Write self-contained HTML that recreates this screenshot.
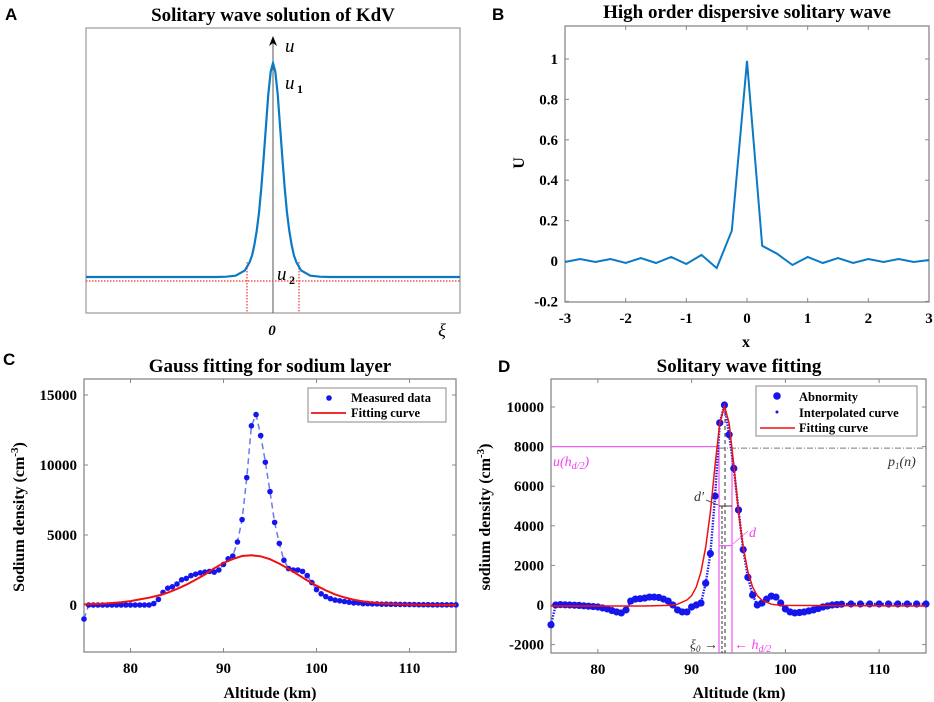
<!DOCTYPE html>
<html><head><meta charset="utf-8">
<style>
html,body{margin:0;padding:0;background:#fff;}
svg{display:block;}
text{font-family:"Liberation Serif",serif;font-weight:bold;}
.tk{font-size:15px;}
.ttl{font-size:19px;}
.pl{font-family:"Liberation Sans",sans-serif;font-size:17px;}
.lg{font-size:12.5px;}
.it{font-style:italic;font-weight:normal;}
</style></head>
<body>
<svg id="fig" width="934" height="702" viewBox="0 0 934 702" xmlns="http://www.w3.org/2000/svg">
<g id="pA"></g>
<g id="pB"></g>
<g id="pC"></g>
<g id="pD"></g>
</svg>
<script>
// ---- Panel A data (solitary wave shape, normalized) ----
const aXi = [-10,-3,-2.5,-2,-1.5,-1.25,-1.125,-1,-0.875,-0.75,-0.625,-0.5,-0.375,-0.25,-0.125,0,0.125,0.25,0.375,0.5,0.625,0.75,0.875,1,1.125,1.25,1.5,2,2.5,3,10];
const aU = [0,0,0.0013,0.0063,0.031,0.0685,0.1,0.148,0.212,0.300,0.416,0.554,0.707,0.854,0.960,1,0.960,0.854,0.707,0.554,0.416,0.300,0.212,0.148,0.1,0.0685,0.031,0.0063,0.0013,0,0];
// ---- Panel B data ----
const bX = [-3,-2.75,-2.5,-2.25,-2,-1.75,-1.5,-1.25,-1,-0.75,-0.5,-0.25,0,0.25,0.5,0.75,1,1.25,1.5,1.75,2,2.25,2.5,2.75,3];
const bU = [-0.005,0.01,-0.005,0.01,-0.01,0.015,-0.01,0.02,-0.015,0.03,-0.035,0.15,0.99,0.075,0.035,-0.02,0.02,-0.01,0.015,-0.01,0.01,-0.005,0.01,-0.005,0.005];
const bXTicks = [-3,-2,-1,0,1,2,3];
const bYTicks = [-0.2,0,0.2,0.4,0.6,0.8,1];
// ---- Panel C data ----
const cAlt = [75,75.5,76,76.5,77,77.5,78,78.5,79,79.5,80,80.5,81,81.5,82,82.5,83,83.5,84,84.5,85,85.5,86,86.5,87,87.5,88,88.5,89,89.5,90,90.5,91,91.5,92,92.5,93,93.5,94,94.5,95,95.5,96,96.5,97,97.5,98,98.5,99,99.5,100,100.5,101,101.5,102,102.5,103,103.5,104,104.5,105,105.5,106,106.5,107,107.5,108,108.5,109,109.5,110,110.5,111,111.5,112,112.5,113,113.5,114,114.5,115];
const cMeas = [-1000,0,0,0,0,0,0,0,0,0,0,0,0,0,0,100,400,900,1200,1300,1500,1800,1900,2100,2200,2300,2350,2400,2350,2500,2900,3300,3500,4500,6100,9100,12800,13600,12100,10200,8100,5900,4400,3200,2600,2500,2500,2400,2100,1600,1100,800,600,450,350,300,250,200,150,150,100,100,80,80,60,60,50,50,40,40,30,30,20,20,20,10,10,10,10,10,10];
const cFitAlt = [75,77,79,80,81,82,83,84,85,86,87,88,89,90,91,92,93,94,95,96,97,98,99,100,101,102,103,104,105,107,109,111,113,115];
const cFit = [40,90,200,280,400,520,680,880,1150,1450,1800,2180,2620,3000,3280,3500,3550,3480,3270,2960,2580,2170,1760,1380,1040,760,540,380,260,110,40,15,5,0];
const cXTicks = [80,90,100,110];
const cYTicks = [0,5000,10000,15000];
// ---- Panel D data ----
const dAlt = [75,75.5,76,76.5,77,77.5,78,78.5,79,79.5,80,80.5,81,81.5,82,82.5,83,83.5,84,84.5,85,85.5,86,86.5,87,87.5,88,88.5,89,89.5,90,90.5,91,91.5,92,92.5,93,93.5,94,94.5,95,95.5,96,96.5,97,97.5,98,98.5,99,99.5,100,100.5,101,101.5,102,102.5,103,103.5,104,104.5,105,105.5,106,107,108,109,110,111,112,113,114,115];
const dAbn = [-1000,0,20,10,0,-10,-20,-40,-60,-80,-100,-150,-200,-280,-350,-400,-250,200,300,320,350,400,400,380,300,200,0,-250,-350,-350,-100,0,100,1100,2600,5500,9200,10100,8600,6900,4800,2800,1400,500,0,100,300,450,400,100,-200,-350,-400,-380,-350,-300,-250,-180,-100,-50,0,20,40,50,50,50,50,50,50,50,50,50];
const dFitAlt = [75,85,87.5,88.5,89.5,90,90.5,91,91.5,92,92.5,93,93.5,94,94.5,95,95.5,96,96.5,97,97.5,98.5,99.5,115];
const dFit = [-50,-50,-20,40,250,470,910,1680,2920,4700,7080,9180,10050,9180,7080,4700,2920,1680,910,470,250,40,-20,-50];
const dXTicks = [80,90,100,110];
const dYTicks = [-2000,0,2000,4000,6000,8000,10000];

const NS='http://www.w3.org/2000/svg';
function el(parent,tag,attrs,txt){const e=document.createElementNS(NS,tag);for(const k in attrs)e.setAttribute(k,attrs[k]);if(txt!==undefined)e.textContent=txt;parent.appendChild(e);return e;}
function lin(d0,d1,r0,r1){return v=>r0+(v-d0)*(r1-r0)/(d1-d0);}

function axesBox(g,x0,y0,x1,y1,sx,sy,xt,yt,xfmt,yfmt){
  const b=el(g,'rect',{x:x0,y:y0,width:x1-x0,height:y1-y0,fill:'none',stroke:'#888','stroke-width':1.3});
  
  
  xt.forEach(v=>{const x=sx(v);
    const t1=el(g,'line',{x1:x,x2:x,y1:y1,y2:y1-4,stroke:'#888'});
    
    
    el(g,'line',{x1:x,x2:x,y1:y0,y2:y0+4,stroke:'#888'});
    const l=el(g,'text',{x:x,y:y1+21,'text-anchor':'middle',class:'tk'},xfmt(v));
    
    
  });
  yt.forEach(v=>{const y=sy(v);
    const t1=el(g,'line',{x1:x0,x2:x0+4,y1:y,y2:y,stroke:'#888'});
    
    
    el(g,'line',{x1:x1,x2:x1-4,y1:y,y2:y,stroke:'#888'});
    const l=el(g,'text',{x:x0-7,y:y+5,'text-anchor':'end',class:'tk'},yfmt(v));
    
    
  });
}
function poly(g,xs,ys,sx,sy,attrs,name){
  const pts=xs.map((x,i)=>sx(x).toFixed(1)+','+sy(ys[i]).toFixed(1)).join(' ');
  const p=el(g,'polyline',Object.assign({points:pts,fill:'none'},attrs));
  
  
  return p;
}
function txt(g,x,y,s,cls,name,extra){
  const t=el(g,'text',Object.assign({x:x,y:y,class:cls||''},extra||{}),s);
  
  
  return t;
}

// ===== Panel A =====
(function(){
  const g=document.getElementById('pA');
  const sx=lin(-10,10,86,460), sy=lin(0,1,277,63);
  txt(g,5,20,'A','pl','panel-label');
  txt(g,273,21,'Solitary wave solution of KdV','ttl','chart-title',{'text-anchor':'middle'});
  const b=el(g,'rect',{x:86,y:28,width:374,height:285,fill:'none',stroke:'#999','stroke-width':1.2});
  
  
  const ax=el(g,'line',{x1:273,x2:273,y1:40,y2:313,stroke:'#555','stroke-width':1});
  
  
  const ar=el(g,'path',{d:'M273,36 L269,46 L273,43 L277,46 Z',fill:'#000'});
  
  
  el(g,'line',{x1:86,x2:460,y1:281,y2:281,stroke:'#e33','stroke-width':1.2,'stroke-dasharray':'1.5,1.5'});
  el(g,'line',{x1:247,x2:247,y1:262,y2:313,stroke:'#e33','stroke-width':1.2,'stroke-dasharray':'1.5,1.5'});
  el(g,'line',{x1:299,x2:299,y1:262,y2:313,stroke:'#e33','stroke-width':1.2,'stroke-dasharray':'1.5,1.5'});
  poly(g,aXi,aU,sx,sy,{stroke:'#0a7ac6','stroke-width':2.2},'solitary-wave-curve');
  txt(g,285,52,'u','it','u-label',{'font-size':'19px'});
  txt(g,285,89,'u','it','u1-label',{'font-size':'19px'});
  txt(g,297,93,'1','','u1-sub',{'font-size':'12px','font-weight':'normal'});
  txt(g,277,280,'u','it','u2-label',{'font-size':'19px'});
  txt(g,289,284,'2','','u2-sub',{'font-size':'12px','font-weight':'normal'});
  txt(g,272,335,'0','','origin-label',{'text-anchor':'middle','font-style':'italic','font-size':'15px'});
  txt(g,442,336,'ξ','it','xi-label',{'text-anchor':'middle','font-size':'18px'});
})();

// ===== Panel B =====
(function(){
  const g=document.getElementById('pB');
  const sx=lin(-3,3,565,929), sy=lin(0,1,261,59);
  txt(g,492,20,'B','pl','panel-label');
  txt(g,747,18,'High order dispersive solitary wave','ttl','chart-title',{'text-anchor':'middle'});
  axesBox(g,565,26,929,302,sx,sy,bXTicks,bYTicks,v=>String(v),v=>String(v));
  poly(g,bX,bU,sx,sy,{stroke:'#0a7ac6','stroke-width':2},'series-u');
  txt(g,746,347,'x','','x-axis-title',{'text-anchor':'middle','font-size':'16px'});
  const t=el(g,'text',{x:0,y:0,transform:'translate(524,163) rotate(-90)','text-anchor':'middle','font-size':'16px'},'U');
  
  
})();

// ===== Panel C =====
(function(){
  const g=document.getElementById('pC');
  const sx=lin(75,115,84,456), sy=lin(0,15000,605,395);
  txt(g,3,365,'C','pl','panel-label');
  txt(g,270,372,'Gauss fitting for sodium layer','ttl','chart-title',{'text-anchor':'middle'});
  axesBox(g,84,379,456,652,sx,sy,cXTicks,cYTicks,v=>String(v),v=>String(v));
  poly(g,cAlt,cMeas,sx,sy,{stroke:'#6a7aee','stroke-width':1.5,'stroke-dasharray':'6,4'},'measured-dashed-line');
  cAlt.forEach((a,i)=>{
    const c=el(g,'circle',{cx:sx(a),cy:sy(cMeas[i]),r:2.8,fill:'#1515ee'});
    
    
  });
  poly(g,cFitAlt,cFit,sx,sy,{stroke:'#f01010','stroke-width':2},'fitting-curve');
  const lb=el(g,'rect',{x:308,y:388,width:138,height:34,fill:'#fff',stroke:'#888'});
  
  
  el(g,'circle',{cx:329,cy:398,r:2.8,fill:'#1515ee'});
  txt(g,351,402,'Measured data','lg','legend-entry-measured');
  el(g,'line',{x1:311,x2:346,y1:413,y2:413,stroke:'#f01010','stroke-width':1.8});
  txt(g,351,417,'Fitting curve','lg','legend-entry-fit');
  txt(g,270,698,'Altitude (km)','','x-axis-title',{'text-anchor':'middle','font-size':'16px'});
  const t=el(g,'text',{transform:'translate(24,517) rotate(-90)','text-anchor':'middle','font-size':'16px'});
  
  
  t.innerHTML='Sodium density (cm<tspan dy="-6" font-size="11">-3</tspan><tspan dy="6">)</tspan>';
})();

// ===== Panel D =====
(function(){
  const g=document.getElementById('pD');
  const sx=lin(75,115,551,926), sy=lin(0,10000,605,407);
  txt(g,498,372,'D','pl','panel-label');
  txt(g,739,372,'Solitary wave fitting','ttl','chart-title',{'text-anchor':'middle'});
  axesBox(g,551,379,926,653,sx,sy,dXTicks,dYTicks,v=>String(v),v=>String(v));
  el(g,'line',{x1:551,x2:719,y1:sy(8000),y2:sy(8000),stroke:'#f060f0','stroke-width':1.3});
  el(g,'line',{x1:719,x2:926,y1:sy(7920),y2:sy(7920),stroke:'#777','stroke-width':1,'stroke-dasharray':'6,2,1,2'});
  el(g,'line',{x1:719,x2:719,y1:sy(8000),y2:653,stroke:'#f060f0','stroke-width':1.3});
  el(g,'line',{x1:732,x2:732,y1:sy(8000),y2:653,stroke:'#f060f0','stroke-width':1.3});
  el(g,'line',{x1:722,x2:722,y1:sy(5000),y2:653,stroke:'#333','stroke-width':1,'stroke-dasharray':'3,2'});
  el(g,'line',{x1:725,x2:725,y1:sy(10100),y2:653,stroke:'#555','stroke-width':1.2,'stroke-dasharray':'4,3'});
  el(g,'line',{x1:719,x2:732,y1:sy(5000),y2:sy(5000),stroke:'#333','stroke-width':1});
  el(g,'line',{x1:719,x2:732,y1:sy(3000),y2:sy(3000),stroke:'#f060f0','stroke-width':1.2});
  el(g,'line',{x1:706,x2:718,y1:500,y2:505,stroke:'#333','stroke-width':0.8});
  el(g,'line',{x1:748,x2:733,y1:531,y2:544,stroke:'#f060f0','stroke-width':0.8});
  poly(g,dAlt,dAbn,sx,sy,{stroke:'#2020ee','stroke-width':2.4,'stroke-dasharray':'1.5,1.3'},'interpolated-curve');
  dAlt.forEach((a,i)=>{
    const c=el(g,'circle',{cx:sx(a),cy:sy(dAbn[i]),r:3.6,fill:'#1515ee'});
    
    
  });
  poly(g,dFitAlt,dFit,sx,sy,{stroke:'#f01010','stroke-width':1.5},'fitting-curve');
  const lb=el(g,'rect',{x:756,y:386,width:161,height:50,fill:'#fff',stroke:'#888'});
  
  
  el(g,'circle',{cx:777,cy:396,r:3.8,fill:'#1515ee'});
  txt(g,799,401,'Abnormity','lg','legend-entry-abnormity');
  el(g,'circle',{cx:777,cy:412,r:1.5,fill:'#1515ee'});
  txt(g,799,417,'Interpolated curve','lg','legend-entry-interpolated');
  el(g,'line',{x1:760,x2:795,y1:428,y2:428,stroke:'#f01010','stroke-width':1.5});
  txt(g,799,432,'Fitting curve','lg','legend-entry-fit');
  const u=el(g,'text',{x:553,y:466,class:'it',fill:'#f040f0','font-size':'14px'});
  
  
  u.innerHTML='u(h<tspan dy="3" font-size="10">d/2</tspan><tspan dy="-3">)</tspan>';
  const p=el(g,'text',{x:888,y:466,class:'it',fill:'#333','font-size':'14px'});
  
  
  p.innerHTML='p<tspan dy="3" font-size="9">1</tspan><tspan dy="-3">(n)</tspan>';
  txt(g,694,501,'d′','it','d-prime-label',{'fill':'#333','font-size':'14px'});
  txt(g,749,537,'d','it','d-label',{'fill':'#f040f0','font-size':'14px'});
  const xi=el(g,'text',{x:690,y:649,class:'it',fill:'#333','font-size':'14px'});
  
  
  xi.innerHTML='ξ<tspan dy="3" font-size="9">0</tspan><tspan dy="-3"> →</tspan>';
  const h=el(g,'text',{x:734,y:649,class:'it',fill:'#f040f0','font-size':'14px'});
  
  
  h.innerHTML='← h<tspan dy="3" font-size="10">d/2</tspan>';
  txt(g,739,698,'Altitude (km)','','x-axis-title',{'text-anchor':'middle','font-size':'16px'});
  const t=el(g,'text',{transform:'translate(490,517) rotate(-90)','text-anchor':'middle','font-size':'16px'});
  
  
  t.innerHTML='sodium density (cm<tspan dy="-6" font-size="11">-3</tspan><tspan dy="6">)</tspan>';
})();
</script>
</body></html>
